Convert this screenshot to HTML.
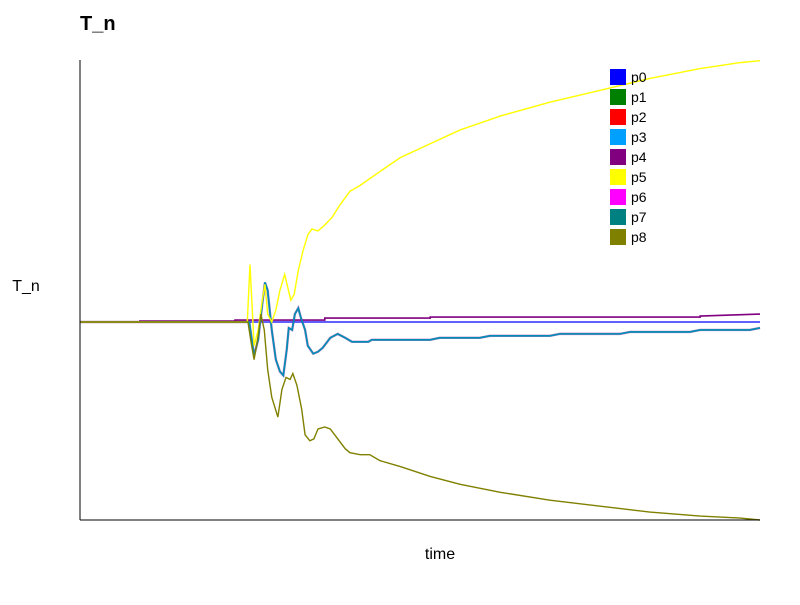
<!DOCTYPE html>
<html><head><meta charset="utf-8"><style>
body{margin:0;background:#fff;width:800px;height:600px;overflow:hidden;font-family:"Liberation Sans",sans-serif}
</style></head><body>
<svg id="chart" width="800" height="600">
<text x="80" y="30" font-size="20" font-weight="bold">T_n</text>
<text x="440" y="559" font-size="16" text-anchor="middle">time</text>
<text x="26" y="291" font-size="16" text-anchor="middle">T_n</text>
<g id="plot"></g>
<line x1="80" y1="60" x2="80" y2="520" stroke="#000"/>
<line x1="80" y1="520" x2="760" y2="520" stroke="#000"/>
<g id="legend"></g>
</svg>
<script>
const seriesNames=["p0","p1","p2","p3","p4","p5","p6","p7","p8"];
const seriesColors=["#0000ff","#008000","#ff0000","#00a0ff","#800080","#ffff00","#ff00ff","#008080","#808000"];
const p0T=[0,100];
const p0V=[0,0];
const p4T=[0,8.8,8.8,22.8,22.8,36.0,36.0,51.5,51.5,91.2,91.2,100];
const p4V=[0,0,0.005,0.005,0.01,0.01,0.02,0.02,0.025,0.025,0.03,0.04];
const p5T=[0,24.6,25.0,25.6,26.2,26.8,27.2,27.6,28.2,28.8,29.4,30.1,31.0,31.5,32.1,32.8,33.5,34.1,35.0,36.0,37.1,38.2,39.7,41.2,44.1,47.1,51.5,55.9,61.8,69.1,76.5,83.8,91.2,97.1,100];
const p5V=[0,0,0.29,-0.12,-0.04,0.11,0.19,0.04,0,0.06,0.16,0.24,0.11,0.14,0.26,0.36,0.44,0.47,0.46,0.49,0.53,0.59,0.66,0.69,0.76,0.83,0.90,0.97,1.04,1.11,1.17,1.23,1.28,1.31,1.32];
const p8T=[0,24.7,25.1,25.6,26.2,26.6,27.1,27.6,28.2,29.1,29.7,30.3,30.9,31.3,31.9,32.6,33.1,33.8,34.4,35.0,36.0,36.8,37.9,39.0,39.7,41.2,42.6,44.1,47.1,51.5,55.9,61.8,69.1,76.5,83.8,91.2,97.1,100];
const p8V=[0,0,-0.09,-0.19,-0.07,0.04,-0.04,-0.24,-0.38,-0.48,-0.34,-0.28,-0.29,-0.26,-0.32,-0.44,-0.57,-0.60,-0.59,-0.54,-0.53,-0.54,-0.59,-0.64,-0.66,-0.67,-0.67,-0.70,-0.73,-0.78,-0.82,-0.86,-0.90,-0.93,-0.96,-0.98,-0.99,-1.0];
const p3T=[0,24.9,25.6,26.2,26.8,27.2,27.6,28.2,28.8,29.4,29.9,30.4,30.7,31.2,31.6,32.1,32.5,33.1,33.5,34.3,35.0,35.7,36.8,37.9,39.0,40.0,41.2,42.4,42.9,44.1,51.5,52.9,58.8,60.3,69.1,70.6,79.4,80.9,89.7,91.2,98.5,100];
const p3V=[0,0,-0.17,-0.09,0.09,0.20,0.16,-0.04,-0.19,-0.25,-0.27,-0.14,-0.03,-0.04,0.04,0.07,0.02,-0.04,-0.12,-0.16,-0.15,-0.13,-0.08,-0.06,-0.08,-0.10,-0.10,-0.10,-0.09,-0.09,-0.09,-0.08,-0.08,-0.07,-0.07,-0.06,-0.06,-0.05,-0.05,-0.04,-0.04,-0.03];
const NS="http://www.w3.org/2000/svg";
const xS=t=>80+t*6.8;
const yS=v=>322-v*198;
const plot=document.getElementById('plot');
function line(T,V,color,w,op,name){
  const p=document.createElementNS(NS,'polyline');
  p.setAttribute('points',T.map((t,i)=>xS(t)+','+yS(V[i])).join(' '));
  p.setAttribute('fill','none');p.setAttribute('stroke',color);p.setAttribute('stroke-width',w);p.setAttribute('opacity',op);
  
  
  plot.appendChild(p);
}
line(p4T,p4V,"#800080",1.6,1,"series-p4");
line(p0T,p0V,"#0000ff",1.2,1,"series-p0");
line(p3T,p3V,"#800080",2.4,0.5,"series-p4-shadow");
line(p3T,p3V,"#008080",1.6,1,"series-p7");
line(p3T,p3V,"#00a0ff",1.6,0.45,"series-p3");
line(p5T,p5V,"#ffff00",1.4,1,"series-p5");
line(p8T,p8V,"#808000",1.4,1,"series-p8");
const lg=document.getElementById('legend');
seriesNames.forEach((n,i)=>{
  const g=document.createElementNS(NS,'g');
  
  
  const y=69+i*20;
  const r=document.createElementNS(NS,'rect');
  r.setAttribute('x',610);r.setAttribute('y',y);r.setAttribute('width',16);r.setAttribute('height',16);r.setAttribute('fill',seriesColors[i]);
  const t=document.createElementNS(NS,'text');
  t.setAttribute('x',631);t.setAttribute('y',y+13);t.setAttribute('font-size',14);t.textContent=n;
  g.appendChild(r);g.appendChild(t);lg.appendChild(g);
});
</script>
</body></html>
